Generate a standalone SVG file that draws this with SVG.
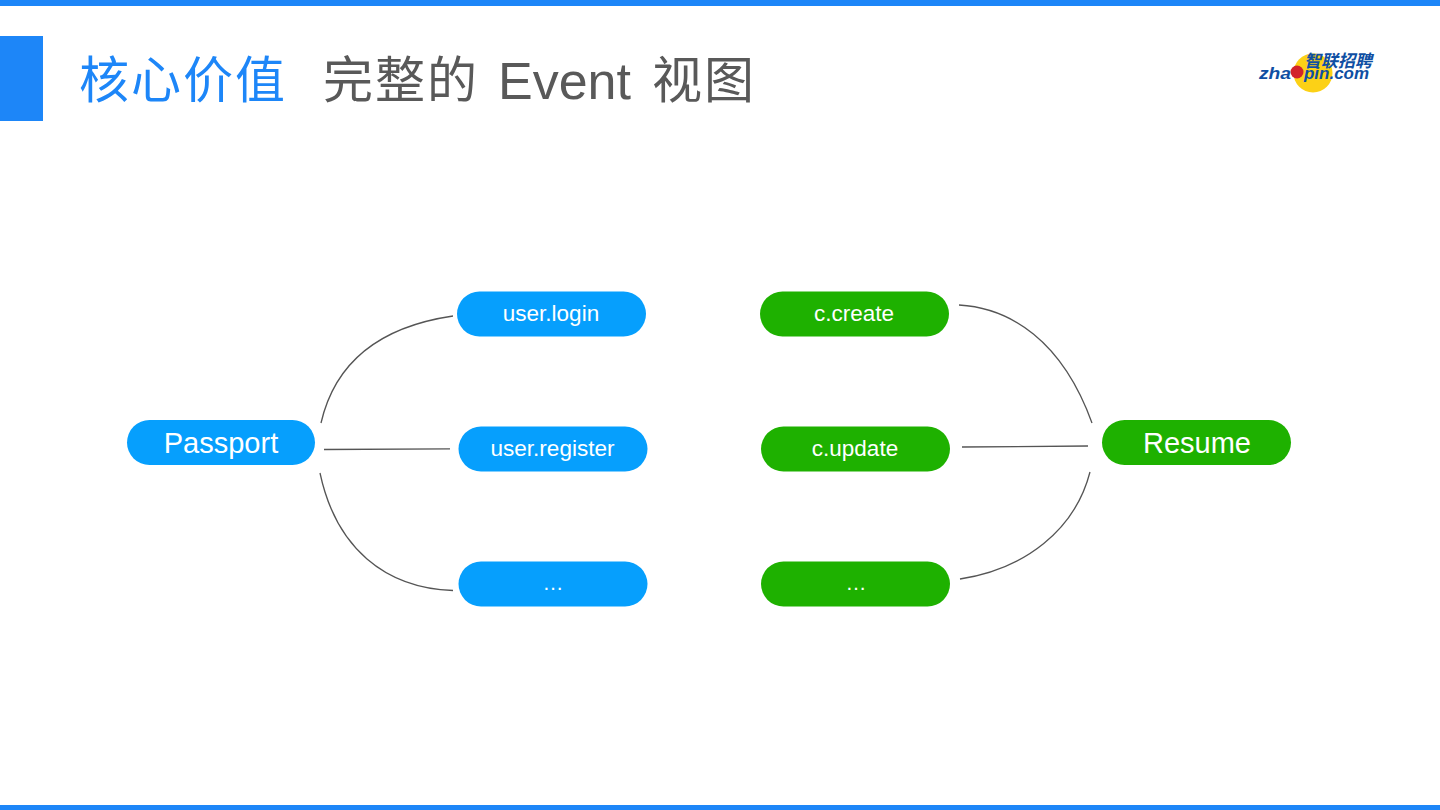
<svg xmlns="http://www.w3.org/2000/svg" width="1440" height="810" viewBox="0 0 1440 810">
<style>
.t{font-family:"Liberation Sans","Noto Sans CJK SC",Arial,sans-serif;text-anchor:middle;fill:#fff}
.s{font-size:22.500px}.b{font-size:29px}.d{font-size:21px}
.blue{fill:#069ffd}.green{fill:#1eb100}
.c{fill:none;stroke:#555;stroke-width:1.3}
.h{font-family:"Noto Sans CJK SC","Liberation Sans",sans-serif;font-size:50px;font-weight:400;letter-spacing:2px}
.e{font-family:"Liberation Sans",Arial,sans-serif;font-size:52px}
.lz{font-family:"Liberation Sans",Arial,sans-serif;font-size:16px;font-weight:700;font-style:italic;fill:#0f4fa3}
.lc{font-family:"Noto Sans CJK SC",sans-serif;font-size:17px;font-weight:700;font-style:italic;fill:#0f4fa3}
</style>
<rect width="1440" height="810" fill="#fff"/>
<rect width="1440" height="6" fill="#1d86f8"/>
<rect y="805" width="1440" height="5" fill="#1d86f8"/>
<rect y="36" width="43" height="85" fill="#1d86f8"/>
<text x="79" y="98" class="h" fill="#1d86f8">核心价值</text>
<text x="323" y="98" class="h" fill="#595959">完整的</text>
<text x="498" y="99" class="e" fill="#595959">Event</text>
<text x="652" y="98" class="h" fill="#595959">视图</text>
<g id="logo">
<circle cx="1313" cy="73" r="19.500" fill="#fcd116"/>
<circle cx="1297" cy="72" r="6.500" fill="#d2232a"/>
<text x="1304" y="67" class="lc" textLength="68" lengthAdjust="spacing">智联招聘</text>
<text x="1259" y="79" class="lz" textLength="32" lengthAdjust="spacingAndGlyphs">zha</text>
<text x="1304" y="79" class="lz" textLength="65" lengthAdjust="spacingAndGlyphs">pin.com</text>
</g>
<g id="connectors">
<path class="c" d="M321 423C336 358 385 326 453 316"/>
<path class="c" d="M324 449.500L450 448.800"/>
<path class="c" d="M320 473C336 548 385 588 453 590.500"/>
<path class="c" d="M959 305C1010 308 1062 340 1092 423"/>
<path class="c" d="M962 447L1088 446"/>
<path class="c" d="M1090 472C1075 530 1025 569 960 579"/>
</g>
<g id="passport"><rect class="blue" x="127" y="420" width="188" height="45" rx="22.500"/><text class="t b" x="221" y="453">Passport</text></g>
<g id="user-login"><rect class="blue" x="457" y="291.500" width="189" height="45" rx="22.500"/><text class="t s" x="551" y="321">user.login</text></g>
<g id="user-register"><rect class="blue" x="458.500" y="426.500" width="189" height="45" rx="22.500"/><text class="t s" x="552.500" y="456">user.register</text></g>
<g id="user-more"><rect class="blue" x="458.500" y="561.500" width="189" height="45" rx="22.500"/><text class="t d" x="553" y="590">…</text></g>
<g id="c-create"><rect class="green" x="760" y="291.500" width="189" height="45" rx="22.500"/><text class="t s" x="854" y="321">c.create</text></g>
<g id="c-update"><rect class="green" x="761" y="426.500" width="189" height="45" rx="22.500"/><text class="t s" x="855" y="456">c.update</text></g>
<g id="c-more"><rect class="green" x="761" y="561.500" width="189" height="45" rx="22.500"/><text class="t d" x="856" y="590">…</text></g>
<g id="resume"><rect class="green" x="1102" y="420" width="189" height="45" rx="22.500"/><text class="t b" x="1197" y="453">Resume</text></g>
</svg>
